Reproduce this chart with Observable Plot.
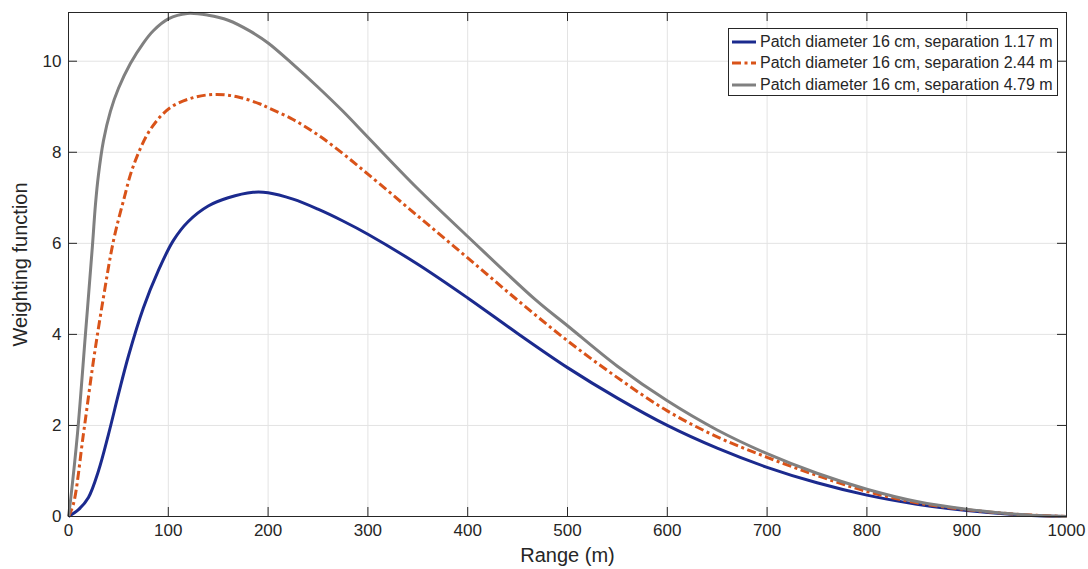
<!DOCTYPE html>
<html>
<head>
<meta charset="utf-8">
<script src="https://cdn.jsdelivr.net/npm/d3@7"></script>
<script src="https://cdn.jsdelivr.net/npm/@observablehq/plot@0.6"></script>
<style>
  html, body { margin: 0; padding: 0; background: #fff; }
  #wrap { position: relative; width: 1088px; height: 569px; font-family: "Liberation Sans", Arial, sans-serif; }
  #legend { position: absolute; left: 728px; top: 28px; width: 330px; height: 68px; box-sizing: border-box;
    border: 1px solid #262626; background: #fff; padding-top: 2px; }
  .row { display: flex; align-items: center; height: 21.5px; font-size: 16px; color: #262626; white-space: nowrap; }
  .row svg { margin-left: 3px; margin-right: 4px; }
</style>
</head>
<body>
<div id="wrap"><div id="chart"></div><div id="legend"></div></div>
<script>
// ---- data ----
const seriesNames = [
  "Patch diameter 16 cm, separation 1.17 m",
  "Patch diameter 16 cm, separation 2.44 m",
  "Patch diameter 16 cm, separation 4.79 m"
];
const rangeBlue = [0, 10, 20, 30, 40, 50, 60, 75, 90, 105, 120, 140, 160, 185, 200, 225, 250, 275, 300, 350, 400, 450, 500, 550, 600, 650, 700, 750, 800, 850, 900, 950, 1000];
const valBlue   = [0, 0.15, 0.42, 1.0, 1.8, 2.68, 3.52, 4.58, 5.4, 6.06, 6.48, 6.82, 7.0, 7.12, 7.11, 6.97, 6.75, 6.49, 6.2, 5.54, 4.8, 4.02, 3.27, 2.6, 2.0, 1.5, 1.08, 0.74, 0.47, 0.27, 0.13, 0.04, 0];
const rangeOrange = [0, 5, 15, 25, 35, 45, 55, 65, 82, 102, 125, 147, 169, 192, 200, 225, 250, 275, 300, 350, 400, 450, 500, 550, 600, 650, 700, 750, 800, 850, 900, 950, 1000];
const valOrange   = [0, 0.28, 1.82, 3.42, 4.81, 6.05, 6.93, 7.7, 8.5, 8.98, 9.2, 9.27, 9.22, 9.06, 8.98, 8.72, 8.38, 7.97, 7.52, 6.6, 5.68, 4.75, 3.86, 3.05, 2.32, 1.75, 1.3, 0.9, 0.55, 0.3, 0.15, 0.05, 0];
const rangeGray = [0, 2, 9, 17, 24, 27, 30, 35, 42, 50, 62, 75, 85, 100, 119, 140, 160, 182, 200, 225, 249, 275, 300, 349, 400, 469, 500, 550, 600, 650, 700, 750, 800, 850, 900, 950, 1000];
const valGray   = [0, 0.35, 1.82, 4.01, 5.95, 6.85, 7.5, 8.25, 8.9, 9.4, 9.95, 10.4, 10.67, 10.93, 11.05, 11.01, 10.9, 10.66, 10.4, 9.93, 9.45, 8.9, 8.33, 7.22, 6.15, 4.74, 4.19, 3.3, 2.54, 1.9, 1.38, 0.95, 0.6, 0.33, 0.16, 0.05, 0];
const xTicks = [0, 100, 200, 300, 400, 500, 600, 700, 800, 900, 1000];
const yTicks = [0, 2, 4, 6, 8, 10];
const colors = ["#1b2a8e", "#d95319", "#808080"];
const dashes = [null, "9,3.5,3,3.5", null];

const toRows = (xs, ys) => xs.map((x, i) => ({x, y: ys[i]}));
const series = [toRows(rangeBlue, valBlue), toRows(rangeOrange, valOrange), toRows(rangeGray, valGray)];

const W = 1088, H = 569, mL = 68, mR = 22, mT = 12, mB = 53;
const innerH = H - mT - mB, innerW = W - mL - mR;
const tickLen = 9, axisColor = "#262626";

const chart = Plot.plot({
  width: W, height: H,
  marginLeft: mL, marginRight: mR, marginTop: mT, marginBottom: mB,
  style: {fontFamily: "'Liberation Sans', Arial, sans-serif", color: axisColor, background: "#fff"},
  x: {domain: [0, 1000]},
  y: {domain: [0, 11.07]},
  marks: [
    Plot.gridX(xTicks, {stroke: "#e3e3e3", strokeOpacity: 1}),
    Plot.gridY(yTicks, {stroke: "#e3e3e3", strokeOpacity: 1}),
    Plot.axisX(xTicks, {tickSize: 0, tickPadding: 7, fontSize: 17, fill: axisColor, tickFormat: d => String(d),
      label: "Range (m)", labelAnchor: "center", labelArrow: "none", labelOffset: 45}),
    Plot.axisY(yTicks, {tickSize: 0, tickPadding: 7, fontSize: 17, fill: axisColor, tickFormat: d => String(d),
      label: "Weighting function", labelAnchor: "center", labelArrow: "none", labelOffset: 56}),
    ...series.map((d, i) => Plot.line(d, {x: "x", y: "y", stroke: colors[i], strokeWidth: 3,
      curve: "catmull-rom", strokeDasharray: dashes[i], strokeLinecap: "butt"})),
    Plot.frame({stroke: axisColor, strokeWidth: 1}),
    Plot.tickX(xTicks, {x: d => d, insetTop: innerH - tickLen, stroke: axisColor}),
    Plot.tickX(xTicks, {x: d => d, insetBottom: innerH - tickLen, stroke: axisColor}),
    Plot.tickY(yTicks, {y: d => d, insetRight: innerW - tickLen, stroke: axisColor}),
    Plot.tickY(yTicks, {y: d => d, insetLeft: innerW - tickLen, stroke: axisColor})
  ]
});
chart.querySelectorAll("[aria-label='x-axis label'] text, [aria-label='y-axis label'] text").forEach(t => t.setAttribute("font-size", "20"));
document.getElementById("chart").appendChild(chart);

// legend (HTML overlay inside the axes, as in the reference)
const legend = document.getElementById("legend");
seriesNames.forEach((name, i) => {
  const row = document.createElement("div");
  row.className = "row";
  const dash = dashes[i] ? `stroke-dasharray="9,3.5,3,3.5"` : "";
  row.innerHTML = `<svg width="24" height="8"><line x1="0" y1="4" x2="24" y2="4" stroke="${colors[i]}" stroke-width="3" ${dash}/></svg><span>${name}</span>`;
  legend.appendChild(row);
});
</script>
</body>
</html>
